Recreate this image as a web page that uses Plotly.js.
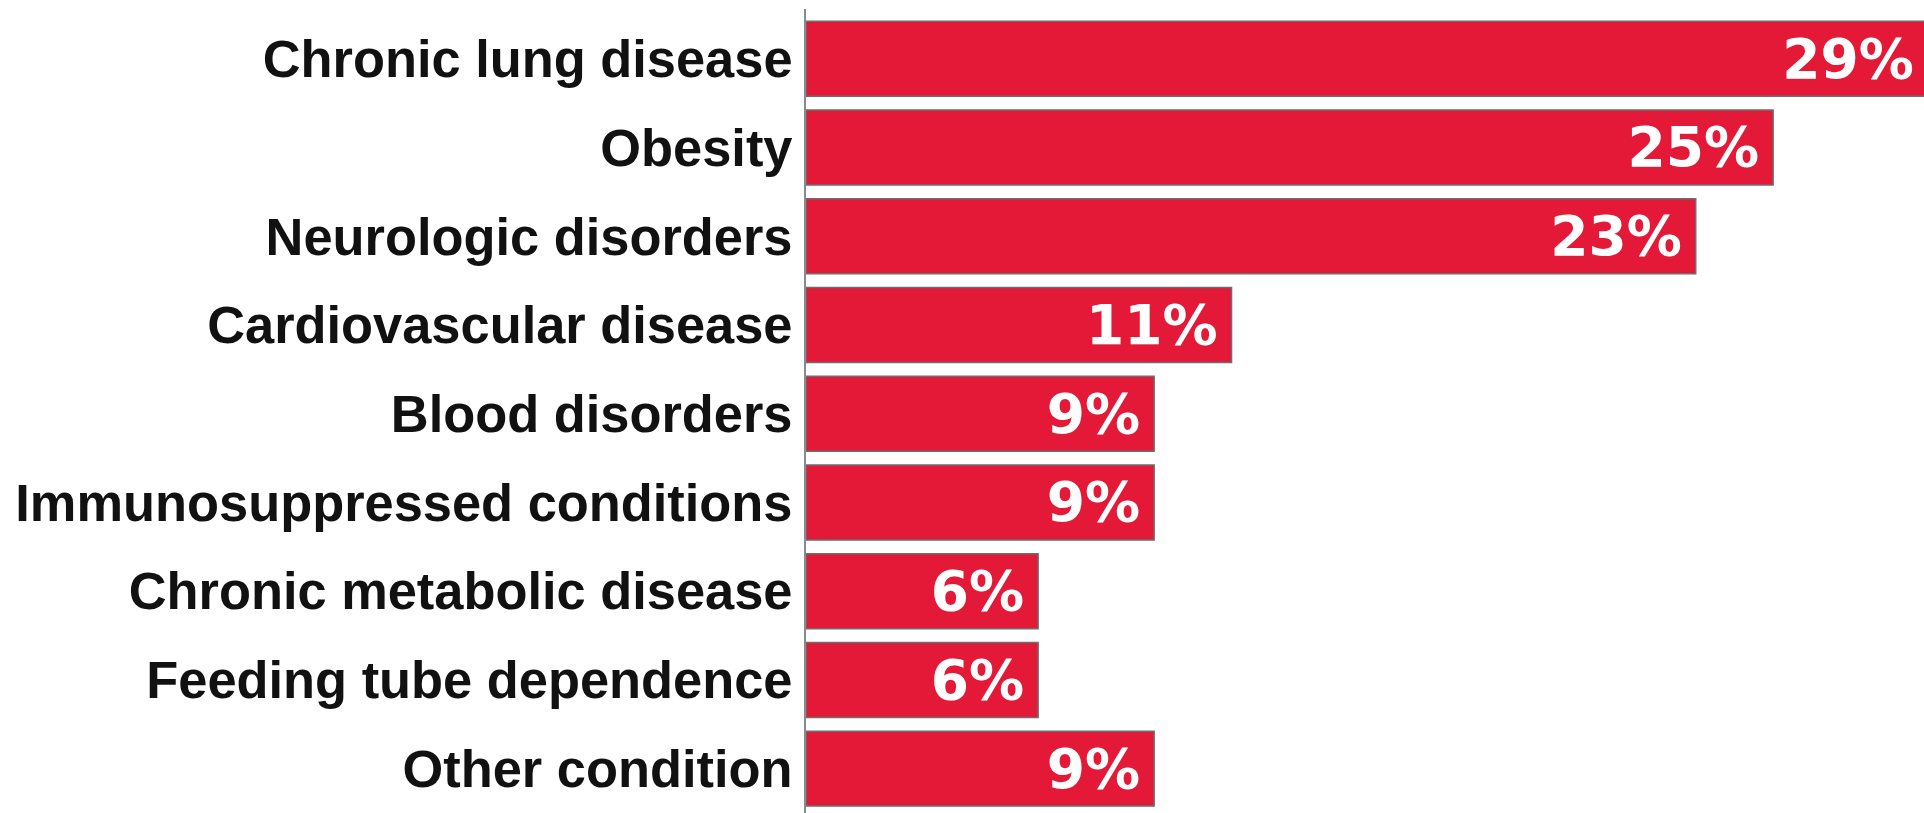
<!DOCTYPE html>
<html>
<head>
<meta charset="utf-8">
<script src="https://cdn.plot.ly/plotly-3.0.1.min.js"></script>
<style>html,body{margin:0;padding:0;background:#fff;}#chart{width:1924px;height:813px;}</style>
</head>
<body>
<div id="chart"></div>
<script>
const categories = [
  "Chronic lung disease",
  "Obesity",
  "Neurologic disorders",
  "Cardiovascular disease",
  "Blood disorders",
  "Immunosuppressed conditions",
  "Chronic metabolic disease",
  "Feeding tube dependence",
  "Other condition"
];
const values = [29, 25, 23, 11, 9, 9, 6, 6, 9];
const valueLabels = values.map(v => v + "%\u2009");

const trace = {
  type: "bar",
  orientation: "h",
  y: categories,
  x: values,
  text: valueLabels,
  textposition: "inside",
  insidetextanchor: "end",
  constraintext: "none",
  textfont: {family: "DejaVu Sans", size: 55, color: "#ffffff", weight: 700},
  marker: {color: "#E31937", line: {color: "#6e6e6e", width: 1.5}},
  hoverinfo: "none",
  cliponaxis: true
};

const layout = {
  width: 1924,
  height: 813,
  margin: {l: 806, r: 0, t: 9, b: 0, pad: 0},
  paper_bgcolor: "#ffffff",
  plot_bgcolor: "#ffffff",
  bargap: 0.155,
  showlegend: false,
  xaxis: {range: [0, 28.9], visible: false, showgrid: false, zeroline: false},
  yaxis: {
    type: "category",
    range: [8.5, -0.56],
    showline: true,
    linecolor: "#8a8a8a",
    linewidth: 2,
    showgrid: false,
    zeroline: false,
    ticks: "",
    ticklabelstandoff: 1,
    tickfont: {family: "Liberation Sans", size: 52.4, color: "#111111", weight: 700}
  }
};

Plotly.newPlot("chart", [trace], layout, {staticPlot: true, displayModeBar: false});
</script>
</body>
</html>
